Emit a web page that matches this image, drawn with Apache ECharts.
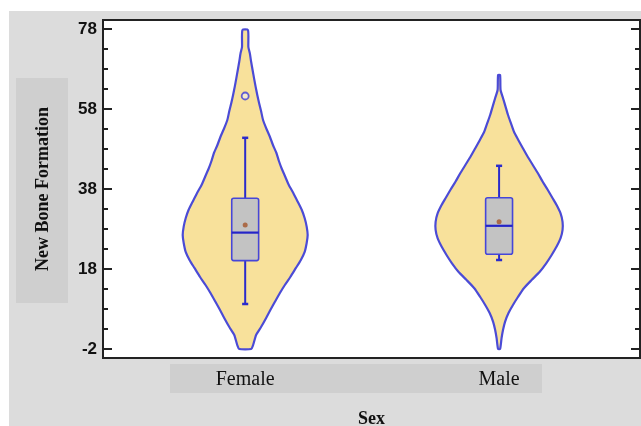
<!DOCTYPE html>
<html><head><meta charset="utf-8">
<script src="https://cdn.jsdelivr.net/npm/echarts@6/dist/echarts.min.js"></script>
<style>html,body{margin:0;padding:0;background:#fff}#c{width:641px;height:426px}</style>
</head><body><div id="c"></div>
<script>
// ---- data ----
const categories = ['Female', 'Male'];
const categoryPos = [1, 2];
// [value, relative density]
const femaleDensity = [
  [-2, 6], [-1, 8], [1.5, 11], [3.5, 16], [5.7, 21], [7.8, 25.5], [9.8, 30], [12, 35],
  [14, 40], [16, 45.5], [18.2, 51], [20.2, 56], [22.3, 60], [24.5, 62], [26.5, 63],
  [28.6, 62], [30.7, 60], [32.8, 57], [34.8, 53], [37, 48.5], [39, 44], [41, 40.5],
  [43, 37], [45, 34], [47, 31.5], [49, 28], [51, 25], [53, 21.5], [55.25, 18],
  [57.5, 16], [59.5, 14], [61.5, 12.2], [63.6, 10.5], [65.6, 9], [67.7, 7.5],
  [69.8, 6], [71.9, 4.7], [73.5, 3.2], [77.75, 2.8]
];
const maleDensity = [
  [-2, 1], [0.7, 2.5], [2.8, 4], [4.8, 6], [7, 9.5], [9, 14], [11, 19], [13.2, 25],
  [15.3, 33], [17.3, 41], [19.4, 47.5], [21.5, 53], [23.6, 58], [25.7, 62], [27.8, 64],
  [29.8, 64], [31.9, 62], [34, 58], [35.7, 54], [37.8, 49], [39.8, 44], [42, 39],
  [44, 34], [46, 29], [48.2, 24], [50.2, 19.5], [52.3, 15], [54.4, 12], [56.5, 9],
  [58.6, 6.5], [60.7, 4], [62.75, 1.5], [66.5, 1]
];
// [low whisker, Q1, median, Q3, high whisker]
const femaleBox = [9.25, 20.1, 27.1, 35.7, 50.8];
const maleBox = [20.25, 21.7, 28.8, 35.8, 43.8];
const means = [29.0, 29.8];
const femaleOutliers = [61.25];
const yTickLabels = [-2, 18, 38, 58, 78];
const yMinorTicks = [3, 8, 13, 23, 28, 33, 43, 48, 53, 63, 68, 73];
const yMin = -4.25, yMax = 80.25;

// ---- styling ----
const VIOLIN_HALF = 0.25;   // x-axis units at max density
const BOX_HALF = 0.053;
const CAP_HALF = 0.012;
const violinFill = '#f8e19b', violinStroke = '#4b4bd6';
const boxFill = '#c3c3c3', boxStroke = '#4646d8', whiskerColor = '#2b2bcc';

const profiles = [femaleDensity, maleDensity];
const globalMax = Math.max(...profiles.map(p => Math.max(...p.map(d => d[1]))));
const boxes = [femaleBox, maleBox];

function violinItem(params, api) {
  const prof = profiles[params.dataIndex];
  const x = api.value(0);
  const right = prof.map(([v, d]) => api.coord([x + d / globalMax * VIOLIN_HALF, v]));
  const left = prof.slice().reverse().map(([v, d]) => api.coord([x - d / globalMax * VIOLIN_HALF, v]));
  return {
    type: 'polygon',
    shape: { points: right.concat(left), smooth: 0.2 },
    style: { fill: violinFill, stroke: violinStroke, lineWidth: 2.2 }
  };
}

function boxItem(params, api) {
  const x = api.value(0);
  const lo = api.value(1), q1 = api.value(2), md = api.value(3), q3 = api.value(4), hi = api.value(5);
  const pLo = api.coord([x, lo]), pQ1 = api.coord([x, q1]), pQ3 = api.coord([x, q3]), pHi = api.coord([x, hi]);
  const bl = api.coord([x - BOX_HALF, q3]), br = api.coord([x + BOX_HALF, q1]);
  const mL = api.coord([x - BOX_HALF, md]), mR = api.coord([x + BOX_HALF, md]);
  const cL = api.coord([x - CAP_HALF, lo])[0], cR = api.coord([x + CAP_HALF, lo])[0];
  const wStyle = { stroke: whiskerColor, lineWidth: 2 };
  return {
    type: 'group',
    children: [
      { type: 'line', shape: { x1: pLo[0], y1: pLo[1], x2: pQ1[0], y2: pQ1[1] }, style: wStyle },
      { type: 'line', shape: { x1: pQ3[0], y1: pQ3[1], x2: pHi[0], y2: pHi[1] }, style: wStyle },
      { type: 'line', shape: { x1: cL, y1: pLo[1], x2: cR, y2: pLo[1] }, style: { stroke: whiskerColor, lineWidth: 2.5 } },
      { type: 'line', shape: { x1: cL, y1: pHi[1], x2: cR, y2: pHi[1] }, style: { stroke: whiskerColor, lineWidth: 2.5 } },
      { type: 'rect', shape: { x: bl[0], y: bl[1], width: br[0] - bl[0], height: br[1] - bl[1], r: 2 },
        style: { fill: boxFill, stroke: boxStroke, lineWidth: 1.6 } },
      { type: 'line', shape: { x1: mL[0], y1: mL[1], x2: mR[0], y2: mR[1] }, style: { stroke: '#2424c8', lineWidth: 2.2 } }
    ]
  };
}

const chart = echarts.init(document.getElementById('c'), null, { renderer: 'canvas' });
const majorAxisBase = {
  type: 'value', min: yMin, max: yMax, splitLine: { show: false },
  axisLine: { show: false }
};
chart.setOption({
  animation: false,
  backgroundColor: '#fff',
  graphic: [
    { type: 'rect', z: -100, shape: { x: 9, y: 11, width: 632, height: 415 }, style: { fill: '#dcdcdc' } },
    { type: 'rect', z: -90, shape: { x: 16, y: 78, width: 52, height: 225 }, style: { fill: '#cfcfcf' } },
    { type: 'rect', z: -90, shape: { x: 170, y: 364, width: 372, height: 29 }, style: { fill: '#cfcfcf' } }
  ],
  grid: { left: 103, right: 1, top: 20, bottom: 68, show: true, backgroundColor: '#fff',
          borderColor: '#222', borderWidth: 2, containLabel: false, outerBoundsMode: 'none' },
  xAxis: {
    type: 'value', min: 0.44, max: 2.555,
    axisLine: { show: false }, axisTick: { show: false }, splitLine: { show: false },
    axisLabel: {
      customValues: categoryPos,
      formatter: v => categories[categoryPos.indexOf(v)],
      fontFamily: 'Liberation Serif', fontSize: 20, color: '#111', margin: 12
    },
    name: 'Sex', nameLocation: 'middle', nameGap: 52,
    nameTextStyle: { fontFamily: 'Liberation Serif', fontWeight: 'bold', fontSize: 18, color: '#111' }
  },
  yAxis: [
    Object.assign({}, majorAxisBase, {
      position: 'left',
      axisTick: { show: true, inside: true, length: 9, customValues: yTickLabels, lineStyle: { color: '#222', width: 2 } },
      axisLabel: { customValues: yTickLabels, fontFamily: 'Liberation Sans', fontWeight: 'bold', fontSize: 17, color: '#111', margin: 6 },
      name: 'New Bone Formation', nameLocation: 'middle', nameGap: 51,
      nameTextStyle: { fontFamily: 'Liberation Serif', fontWeight: 'bold', fontSize: 18, color: '#111' }
    }),
    Object.assign({}, majorAxisBase, {
      position: 'left',
      axisTick: { show: true, inside: true, length: 5, customValues: yMinorTicks, lineStyle: { color: '#222', width: 2 } },
      axisLabel: { show: false }
    }),
    Object.assign({}, majorAxisBase, {
      position: 'right',
      axisTick: { show: true, inside: true, length: 9, customValues: yTickLabels, lineStyle: { color: '#222', width: 2 } },
      axisLabel: { show: false }
    }),
    Object.assign({}, majorAxisBase, {
      position: 'right',
      axisTick: { show: true, inside: true, length: 5, customValues: yMinorTicks, lineStyle: { color: '#222', width: 2 } },
      axisLabel: { show: false }
    })
  ],
  series: [
    {
      type: 'custom', name: 'violin', z: 1, renderItem: violinItem,
      encode: { x: 0, y: [1, 2] },
      data: categoryPos.map((x, i) => [x, profiles[i][0][0], profiles[i][profiles[i].length - 1][0]])
    },
    {
      type: 'custom', name: 'box', z: 2, renderItem: boxItem,
      encode: { x: 0, y: [1, 2, 3, 4, 5] },
      data: categoryPos.map((x, i) => [x].concat(boxes[i]))
    },
    {
      type: 'scatter', name: 'mean', z: 3, symbol: 'circle', symbolSize: 5,
      itemStyle: { color: '#a5552a' },
      data: categoryPos.map((x, i) => [x, means[i]])
    },
    {
      type: 'scatter', name: 'outlier', z: 3, symbol: 'circle', symbolSize: 7,
      itemStyle: { color: '#f3edd8', borderColor: '#3b3bd8', borderWidth: 1.8 },
      data: femaleOutliers.map(v => [categoryPos[0], v])
    }
  ]
});
</script>
</body></html>
